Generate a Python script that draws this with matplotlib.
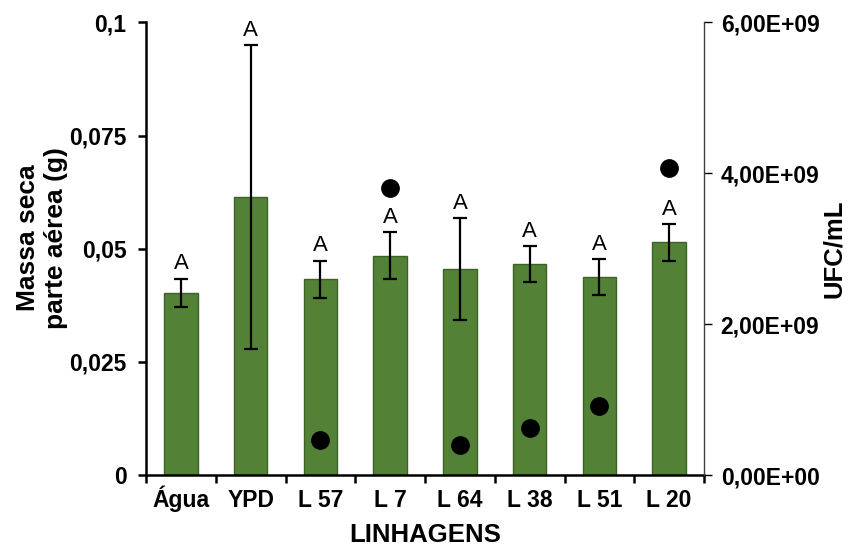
import numpy as np
import matplotlib
matplotlib.use('Agg')
import matplotlib.pyplot as plt
from matplotlib.ticker import FuncFormatter

plt.rcParams['font.family'] = ['Liberation Sans', 'DejaVu Sans']

linhagens = ['Água', 'YPD', 'L 57', 'L 7', 'L 64', 'L 38', 'L 51', 'L 20']
massa = [0.0403, 0.0614, 0.0433, 0.0485, 0.0455, 0.0466, 0.0438, 0.0514]
erro = [0.0031, 0.0336, 0.0041, 0.0052, 0.0112, 0.0039, 0.0040, 0.0040]
letras = ['A', 'A', 'A', 'A', 'A', 'A', 'A', 'A']
ufc_linhagens = ['L 57', 'L 7', 'L 64', 'L 38', 'L 51', 'L 20']
ufc = [0.46e9, 3.81e9, 0.40e9, 0.62e9, 0.92e9, 4.07e9]

fig = plt.figure(figsize=(8.51, 5.47), dpi=100)
ax = fig.add_axes([0.1716, 0.1316, 0.6557, 0.8273])
x = np.arange(len(linhagens))

ax.bar(x, massa, width=0.48, color='#538135', edgecolor='#3d6228', linewidth=1, zorder=2)
ax.errorbar(x, massa, yerr=erro, fmt='none', ecolor='black', elinewidth=1.6,
            capsize=5, capthick=1.6, zorder=3)
for xi, m, e, l in zip(x, massa, erro, letras):
    ax.annotate(l, (xi, m + e), xytext=(0, 3), textcoords='offset points',
                ha='center', va='bottom', fontsize=16)

ax.set_xlim(-0.5, len(linhagens) - 0.5)
ax.set_ylim(0, 0.1)
ax.set_yticks([0, 0.025, 0.05, 0.075, 0.1])
ax.yaxis.set_major_formatter(FuncFormatter(
    lambda v, p: '0' if v == 0 else ('%g' % v).replace('.', ',')))
ax.set_xticks(x)
ax.set_xticklabels(linhagens)
ax.set_xticks(np.arange(-0.5, len(linhagens)), minor=True)
ax.tick_params(axis='x', which='major', length=0, pad=23)
ax.tick_params(axis='x', which='minor', length=6, width=1.8, direction='out')
ax.tick_params(axis='y', length=6, width=1.8, direction='out', pad=8)
for lab in ax.get_xticklabels():
    lab.set_verticalalignment('baseline')
for lab in ax.get_xticklabels() + ax.get_yticklabels():
    lab.set_fontweight('bold')
    lab.set_fontsize(16.5)
ax.spines['top'].set_visible(False)
ax.spines['right'].set_visible(False)
ax.spines['left'].set_linewidth(1.8)
ax.spines['bottom'].set_linewidth(1.8)
ax.set_xlabel('LINHAGENS', fontsize=18.5, fontweight='bold')
ax.xaxis.set_label_coords(0.5, -0.105)
ax.set_ylabel('Massa seca\nparte aérea (g)', fontsize=19, fontweight='bold',
              linespacing=1.2)
ax.yaxis.set_label_coords(-0.14, 0.524)

ax2 = ax.twinx()
xu = [linhagens.index(n) for n in ufc_linhagens]
ax2.plot(xu, ufc, 'o', color='black', markersize=12.5, zorder=4)
ax2.set_ylim(0, 6e9)
ax2.set_yticks([0, 2e9, 4e9, 6e9])
ax2.yaxis.set_major_formatter(FuncFormatter(
    lambda v, p: ('%.2E' % v).replace('.', ',')))
ax2.tick_params(axis='y', length=6, width=1, direction='out', pad=6)
for lab in ax2.get_yticklabels():
    lab.set_fontweight('bold')
    lab.set_fontsize(16.5)
for s in ['top', 'left', 'bottom']:
    ax2.spines[s].set_visible(False)
ax2.spines['right'].set_linewidth(1)
ax2.spines['right'].set_color('#404040')
ax2.set_ylabel('UFC/mL', fontsize=18.5, fontweight='bold')
ax2.yaxis.set_label_coords(1.212, 0.5)

fig.savefig('out.png', dpi=100)
